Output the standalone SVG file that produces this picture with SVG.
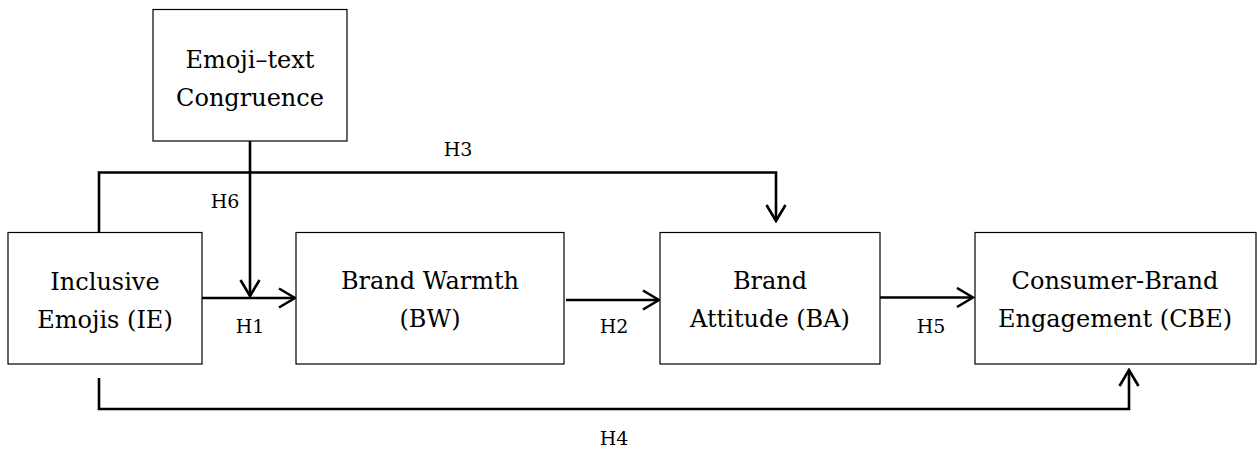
<svg xmlns="http://www.w3.org/2000/svg" width="1257" height="452" viewBox="0 0 1257 452">
<defs>
<style>
.box{fill:#fff;stroke:#000;stroke-width:1.2}
.nt{font-family:"DejaVu Serif","Liberation Serif",serif;font-size:24px;fill:#000;text-anchor:middle}
.lb{font-family:"DejaVu Serif","Liberation Serif",serif;font-size:19px;fill:#000;text-anchor:middle}
.cn{fill:none;stroke:#000;stroke-width:2.6}
</style>
<marker id="ah" markerUnits="userSpaceOnUse" viewBox="0 0 20 22" refX="18" refY="11" markerWidth="20" markerHeight="22" orient="auto">
<path d="M2,1.5 L18,11 L2,20.5" fill="none" stroke="#000" stroke-width="2.6"/>
</marker>
</defs>
<rect width="1257" height="452" fill="#fff"/>
<g id="connectors">
<path class="cn" d="M99,232 V172.5 H776 V221" marker-end="url(#ah)"/>
<path class="cn" d="M250,141 V296" marker-end="url(#ah)"/>
<path class="cn" d="M202,298 H295" marker-end="url(#ah)"/>
<path class="cn" d="M566,300 H659" marker-end="url(#ah)"/>
<path class="cn" d="M880,297.5 H973" marker-end="url(#ah)"/>
<path class="cn" d="M99,378 V409 H1129 V370" marker-end="url(#ah)"/>
<text class="lb" x="458" y="156">H3</text>
<text class="lb" x="225" y="208">H6</text>
<text class="lb" x="250" y="333">H1</text>
<text class="lb" x="614" y="333">H2</text>
<text class="lb" x="931" y="333">H5</text>
<text class="lb" x="614" y="445">H4</text>
</g>
<g id="etc">
<rect class="box" x="153" y="9.5" width="194" height="131.5"/>
<text class="nt" x="250" y="68">Emoji–text</text>
<text class="nt" x="250" y="106">Congruence</text>
</g>
<g id="ie">
<rect class="box" x="8" y="232.5" width="194" height="131.5"/>
<text class="nt" x="105" y="290">Inclusive</text>
<text class="nt" x="105" y="328">Emojis (IE)</text>
</g>
<g id="bw">
<rect class="box" x="296" y="232.5" width="268" height="131.5"/>
<text class="nt" x="430" y="289">Brand Warmth</text>
<text class="nt" x="430" y="327">(BW)</text>
</g>
<g id="ba">
<rect class="box" x="660" y="232.5" width="220" height="131.5"/>
<text class="nt" x="770" y="289">Brand</text>
<text class="nt" x="770" y="327">Attitude (BA)</text>
</g>
<g id="cbe">
<rect class="box" x="975" y="232.5" width="281" height="131.5"/>
<text class="nt" x="1115" y="289">Consumer-Brand</text>
<text class="nt" x="1115" y="327">Engagement (CBE)</text>
</g>
</svg>
